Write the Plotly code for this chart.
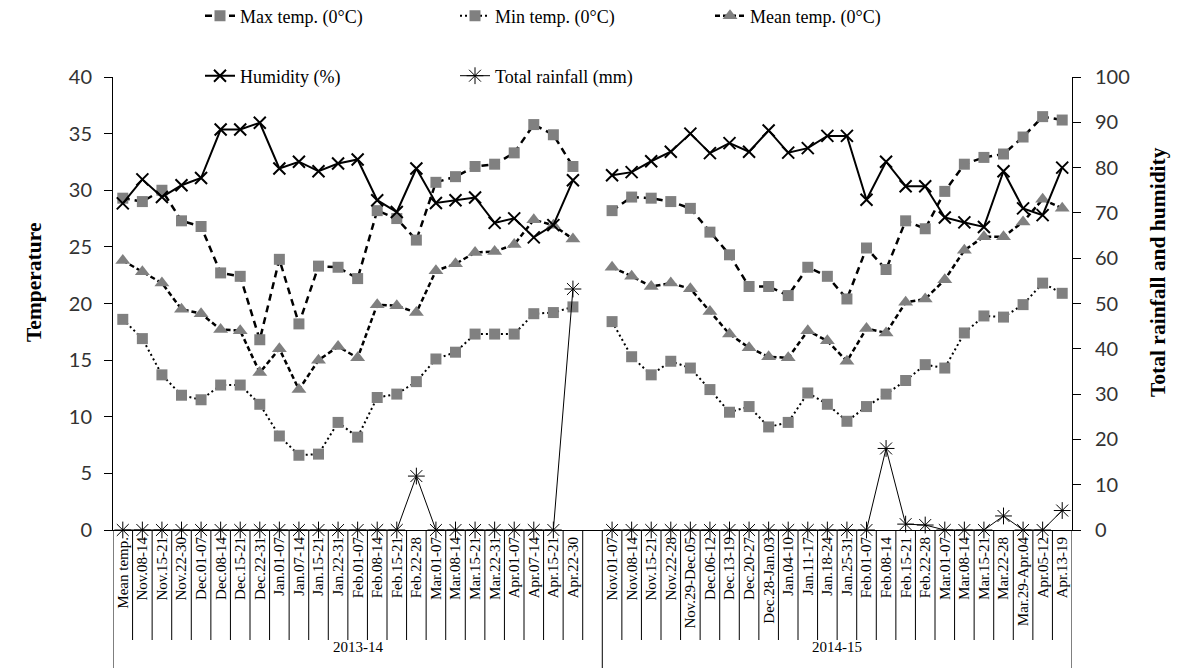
import plotly.graph_objects as go

# ---------------- data ----------------
labels_1314 = ["Mean temp.", "Nov.08-14", "Nov.15-21", "Nov.22-30", "Dec.01-07", "Dec.08-14",
               "Dec.15-21", "Dec.22-31", "Jan.01-07", "Jan.07-14", "Jan.15-21", "Jan.22-31",
               "Feb.01-07", "Feb.08-14", "Feb.15-21", "Feb.22-28", "Mar.01-07", "Mar.08-14",
               "Mar.15-21", "Mar.22-31", "Apr.01-07", "Apr.07-14", "Apr.15-21", "Apr.22-30"]
labels_1415 = ["Nov.01-07", "Nov.08-14", "Nov.15-21", "Nov.22-28", "Nov.29-Dec.05", "Dec.06-12",
               "Dec.13-19", "Dec.20-27", "Dec.28-Jan.03", "Jan.04-10", "Jan.11-17", "Jan.18-24",
               "Jan.25-31", "Feb.01-07", "Feb.08-14", "Feb.15-21", "Feb.22-28", "Mar.01-07",
               "Mar.08-14", "Mar.15-21", "Mar.22-28", "Mar.29-Apr.04", "Apr.05-12", "Apr.13-19"]
seasons = ["2013-14", "2014-15"]

max_1314 = [29.3, 29.0, 30.0, 27.3, 26.8, 22.7, 22.4, 16.8, 23.9, 18.2, 23.3, 23.2,
            22.2, 28.2, 27.5, 25.6, 30.7, 31.2, 32.1, 32.3, 33.3, 35.8, 34.9, 32.1]
min_1314 = [18.6, 16.9, 13.7, 11.9, 11.5, 12.8, 12.8, 11.1, 8.3, 6.6, 6.7, 9.5,
            8.2, 11.7, 12.0, 13.1, 15.1, 15.7, 17.3, 17.3, 17.3, 19.1, 19.2, 19.7]
mean_1314 = [23.8, 22.8, 21.8, 19.5, 19.1, 17.7, 17.6, 13.9, 16.0, 12.4, 15.0, 16.2,
             15.2, 19.9, 19.8, 19.2, 22.9, 23.5, 24.5, 24.6, 25.2, 27.4, 26.9, 25.7]
hum_1314 = [72.1, 77.4, 73.5, 76.1, 77.7, 88.4, 88.4, 89.9, 79.8, 81.3, 79.2, 80.9,
            81.8, 72.8, 70.2, 79.8, 72.2, 72.8, 73.4, 67.8, 68.8, 64.6, 67.3, 77.2]
rain_1314 = [0, 0, 0, 0, 0, 0, 0, 0, 0, 0, 0, 0,
             0, 0, 0, 11.9, 0, 0, 0, 0, 0, 0, 0, 53.2]

max_1415 = [28.2, 29.4, 29.3, 29.0, 28.4, 26.3, 24.3, 21.5, 21.5, 20.7, 23.2, 22.4,
            20.4, 24.9, 23.0, 27.3, 26.6, 29.9, 32.3, 32.9, 33.2, 34.7, 36.5, 36.2]
min_1415 = [18.4, 15.3, 13.7, 14.9, 14.3, 12.4, 10.4, 10.9, 9.1, 9.5, 12.1, 11.1,
            9.6, 10.9, 12.0, 13.2, 14.6, 14.3, 17.4, 18.9, 18.8, 19.9, 21.8, 20.9]
mean_1415 = [23.2, 22.4, 21.5, 21.8, 21.3, 19.3, 17.3, 16.1, 15.3, 15.2, 17.6, 16.7,
             14.9, 17.8, 17.4, 20.1, 20.4, 22.1, 24.7, 25.9, 25.9, 27.2, 29.2, 28.4]
hum_1415 = [78.3, 79.0, 81.4, 83.5, 87.5, 83.2, 85.4, 83.5, 88.2, 83.3, 84.3, 87.0,
            87.0, 72.9, 81.3, 75.9, 75.9, 69.0, 67.9, 66.9, 79.2, 71.0, 69.5, 80.0]
rain_1415 = [0, 0, 0, 0, 0, 0, 0, 0, 0, 0, 0, 0,
             0, 0, 18.0, 1.3, 1.1, 0, 0, 0, 3.1, 0, 0, 4.3]

# ---------------- layout helpers ----------------
n1, n2 = len(labels_1314), len(labels_1415)
gap = 1  # one blank category closes the first season group
x_all = list(range(n1 + gap + n2))
tick_text = labels_1314 + [""] * gap + labels_1415


def join(a, b):
    return a + [None] * gap + b


GRAY = "#808080"
SERIF = "Liberation Serif, Times New Roman, serif"
SANS = "Lato, Carlito, Calibri, sans-serif"

W, H = 1187, 668
ML, MR, MT, MB = 113, 115, 77, 138
plot_w = W - ML - MR
plot_h = H - MT - MB


def py(ypix):
    """paper y from a pixel row"""
    return (H - MB - ypix) / plot_h


def px(xpix):
    return (xpix - ML) / plot_w


fig = go.Figure()

fig.add_trace(go.Scatter(
    x=x_all, y=join(max_1314, max_1415), name="Max temp. (0°C)", mode="lines+markers",
    line=dict(color="black", width=2.5, dash="7px,5px"),
    marker=dict(symbol="square", size=11, color=GRAY), legend="legend", cliponaxis=False))
fig.add_trace(go.Scatter(
    x=x_all, y=join(min_1314, min_1415), name="Min temp. (0°C)", mode="lines+markers",
    line=dict(color="black", width=2, dash="2px,3px"),
    marker=dict(symbol="square", size=11, color=GRAY), legend="legend", cliponaxis=False))
fig.add_trace(go.Scatter(
    x=x_all, y=join(mean_1314, mean_1415), name="Mean temp. (0°C)", mode="lines+markers",
    line=dict(color="black", width=2.5, dash="5px,3px"),
    marker=dict(symbol="triangle-up", size=13, color=GRAY), legend="legend", cliponaxis=False))
fig.add_trace(go.Scatter(
    x=x_all, y=join(hum_1314, hum_1415), name="Humidity (%)", mode="lines+markers",
    line=dict(color="black", width=2),
    marker=dict(symbol="x-thin", size=12, color="black", line=dict(color="black", width=2)),
    yaxis="y2", legend="legend2", cliponaxis=False))
fig.add_trace(go.Scatter(
    x=x_all, y=join(rain_1314, rain_1415), name="Total rainfall (mm)", mode="lines+markers",
    line=dict(color="black", width=1),
    marker=dict(symbol="asterisk", size=14, color="black", line=dict(color="black", width=1)),
    yaxis="y2", legend="legend2", cliponaxis=False))

# category separators below the axis
inner_bottom = py(640)
outer_bottom = py(H)
shapes = []
for i in range(len(x_all) - 1):
    b = i + 0.5
    is_group = (b == n1 + gap - 0.5)
    shapes.append(dict(type="line", xref="x", yref="paper", x0=b, x1=b, y0=0,
                       y1=outer_bottom if is_group else inner_bottom,
                       line=dict(color="black", width=1)))
for b in (-0.5, len(x_all) - 0.5):
    shapes.append(dict(type="line", xref="x", yref="paper", x0=b, x1=b, y0=0, y1=outer_bottom,
                       line=dict(color="black", width=1)))

annotations = [
    dict(text=seasons[0], x=(n1 + gap - 1) / 2, xref="x", y=py(657), yref="paper",
         showarrow=False, font=dict(family=SERIF, size=15, color="black")),
    dict(text=seasons[1], x=n1 + gap + (n2 - 1) / 2, xref="x", y=py(657), yref="paper",
         showarrow=False, font=dict(family=SERIF, size=15, color="black")),
    dict(text="<b>Temperature</b>", textangle=-90, x=px(20), xref="paper",
         y=py(283), yref="paper", showarrow=False, font=dict(family=SERIF, size=21.5, color="black")),
    dict(text="<b>Total rainfall and humidity</b>", textangle=-90, x=px(1172),
         xref="paper", y=py(272), yref="paper", showarrow=False,
         font=dict(family=SERIF, size=21.5, color="black")),
]

fig.update_layout(
    width=W, height=H,
    margin=dict(l=ML, r=MR, t=MT, b=MB, autoexpand=False),
    paper_bgcolor="white", plot_bgcolor="white",
    showlegend=True,
    xaxis=dict(range=[-0.5, len(x_all) - 0.5], tickmode="array", tickvals=x_all, ticktext=tick_text,
               tickangle=-90, ticks="", showgrid=False, zeroline=False, showline=True,
               linecolor="black", linewidth=1, tickfont=dict(family=SERIF, size=15, color="black")),
    yaxis=dict(range=[0, 40], dtick=5, ticks="outside", ticklen=8, tickcolor="black",
               ticklabelstandoff=8,
               showgrid=False, zeroline=False, showline=True, linecolor="black", linewidth=1,
               tickfont=dict(family=SANS, size=20, color="#333333")),
    yaxis2=dict(range=[0, 100], dtick=10, overlaying="y", side="right", ticks="outside", ticklen=8,
                ticklabelstandoff=10,
                tickcolor="black", showgrid=False, zeroline=False, showline=True,
                linecolor="black", linewidth=1,
                tickfont=dict(family=SANS, size=20, color="#333333")),
    legend=dict(orientation="h", x=px(200), xanchor="left", y=py(16),
                yanchor="middle", entrywidth=210, entrywidthmode="pixels",
                font=dict(family=SERIF, size=18, color="black"), bgcolor="rgba(0,0,0,0)"),
    legend2=dict(orientation="h", x=px(200), xanchor="left", y=py(76),
                 yanchor="middle", entrywidth=210, entrywidthmode="pixels",
                 font=dict(family=SERIF, size=18, color="black"), bgcolor="rgba(0,0,0,0)"),
    shapes=shapes,
    annotations=annotations,
)

fig.write_html("out.html", config={"displayModeBar": False},
               post_script="document.body.style.margin='0';")
